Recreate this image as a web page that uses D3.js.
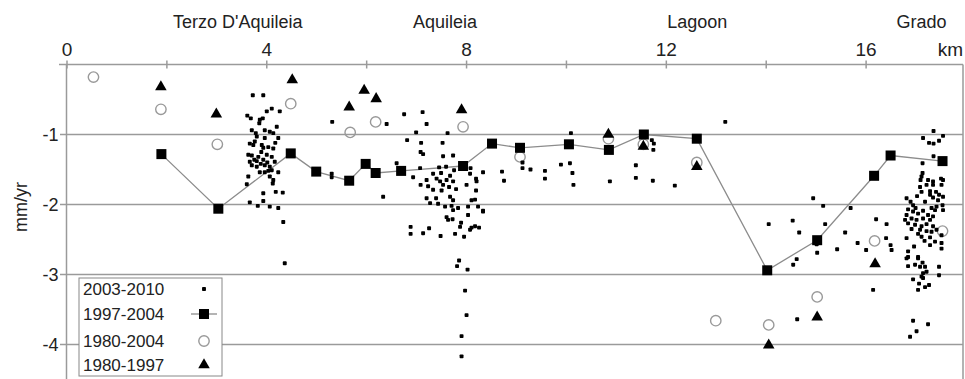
<!DOCTYPE html>
<html>
<head>
<meta charset="utf-8">
<script src="https://cdn.jsdelivr.net/npm/d3@7"></script>
<style>
  body { margin: 0; background: #fff; }
  svg { display: block; font-family: "Liberation Sans", Arial, sans-serif; }
</style>
</head>
<body>
<div id="chart"></div>
<script>
// km along the profile, vertical velocity in mm/yr
const places = [["Terzo D'Aquileia", 3.43], ["Aquileia", 7.58], ["Lagoon", 12.63], ["Grado", 17.12]]
const kmTicks = [0, 2, 4, 6, 8, 10, 12, 14, 16]
const yTicks = [-1, -2, -3, -4]
const legendLabels = ["2003-2010", "1997-2004", "1980-2004", "1980-1997"]

const sq1997_2004 = [[1.90,-1.28],[3.04,-2.06],[4.49,-1.27],[5.00,-1.53],[5.66,-1.66],[5.99,-1.42],[6.19,-1.55],
  [6.70,-1.52],[7.94,-1.45],[8.52,-1.13],[9.08,-1.19],[10.06,-1.14],[10.86,-1.22],[11.56,-1.00],[12.62,-1.06],
  [14.03,-2.94],[15.03,-2.51],[16.17,-1.59],[16.50,-1.30],[17.54,-1.38]]

const circ1980_2004 = [[0.54,-0.18],[1.89,-0.64],[3.02,-1.14],[4.49,-0.56],[5.68,-0.97],[6.19,-0.82],[7.94,-0.89],
  [9.08,-1.32],[10.85,-1.06],[11.55,-1.14],[12.62,-1.40],[13.00,-3.66],[14.06,-3.72],[15.03,-3.32],[16.18,-2.52],[17.54,-2.38]]

const tri1980_1997 = [[1.89,-0.32],[3.00,-0.71],[4.52,-0.22],[5.66,-0.61],[5.96,-0.37],[6.20,-0.49],[7.91,-0.65],
  [10.85,-1.00],[11.55,-1.17],[12.62,-1.46],[14.06,-4.01],[15.03,-3.61],[16.19,-2.85]]

const dots2003_2010 = [
  // Terzo d'Aquileia
  [3.73,-0.44],[3.94,-0.44],[4.11,-0.63],[4.27,-0.67],[4.01,-0.67],[3.62,-0.73],[3.69,-0.77],[3.87,-0.79],
  [3.93,-0.77],[3.86,-0.84],[4.21,-0.89],[3.71,-0.94],[3.97,-0.94],[4.07,-0.96],[4.14,-0.98],[3.81,-1.03],
  [3.97,-1.05],[4.24,-1.05],[3.67,-1.13],[3.74,-1.15],[3.91,-1.15],[3.94,-1.19],[4.14,-1.20],[3.64,-1.29],
  [3.71,-1.30],[3.84,-1.32],[4.01,-1.29],[4.11,-1.32],[3.67,-1.39],[3.81,-1.38],[3.94,-1.36],[4.02,-1.40],
  [4.17,-1.39],[3.71,-1.44],[3.81,-1.46],[3.97,-1.44],[4.07,-1.46],[3.87,-1.54],[3.97,-1.54],[4.11,-1.51],
  [4.24,-1.54],[3.64,-1.60],[4.07,-1.60],[4.14,-1.65],[3.61,-1.71],[4.13,-1.70],[3.94,-1.84],[4.19,-1.82],
  [4.33,-1.83],[3.94,-1.95],[3.67,-1.97],[3.83,-2.02],[4.07,-2.03],[4.24,-2.05],[4.34,-2.25],[4.37,-2.84],
  [3.77,-1.10],[3.90,-1.25],[4.04,-1.18],[3.76,-1.36],[3.89,-1.42],[4.04,-1.52],[3.79,-0.98],[4.18,-1.12],
  // between
  [5.32,-0.82],[6.41,-0.85],[6.76,-0.71],[6.82,-1.08],[5.31,-1.56],[5.31,-1.61],[6.61,-1.41],[6.34,-1.89],
  // Aquileia
  [7.13,-0.68],[7.21,-0.85],[7.00,-0.97],[7.63,-0.98],[7.10,-1.12],[7.53,-1.12],[7.09,-1.25],[7.14,-1.28],
  [7.54,-1.31],[7.74,-1.30],[7.08,-1.48],[7.46,-1.47],[7.60,-1.46],[7.76,-1.51],[8.09,-1.48],[6.94,-1.61],
  [7.34,-1.56],[7.50,-1.55],[7.68,-1.59],[8.08,-1.56],[8.34,-1.54],[8.20,-1.63],[7.21,-1.65],[7.41,-1.63],
  [7.48,-1.67],[7.61,-1.65],[7.74,-1.67],[7.09,-1.72],[7.24,-1.74],[7.54,-1.72],[7.66,-1.75],[8.01,-1.72],
  [8.21,-1.67],[7.34,-1.79],[7.51,-1.80],[7.80,-1.78],[8.20,-1.80],[7.21,-1.91],[7.40,-1.91],[7.68,-1.89],
  [7.74,-1.94],[8.11,-1.94],[8.18,-1.93],[7.28,-1.98],[7.44,-1.99],[7.58,-2.03],[7.71,-2.02],[8.04,-2.03],
  [8.24,-2.03],[7.74,-2.08],[7.84,-2.05],[8.34,-2.09],[8.04,-2.15],[7.61,-2.18],[7.73,-2.21],[7.64,-2.22],
  [7.90,-2.26],[6.89,-2.32],[7.26,-2.34],[7.88,-2.32],[8.18,-2.31],[8.26,-2.33],[8.11,-2.33],[6.89,-2.42],
  [7.14,-2.41],[7.49,-2.45],[7.78,-2.42],[7.96,-2.46],[8.08,-2.36],[8.34,-2.10],
  [7.86,-2.80],[7.82,-2.88],[8.03,-2.93],[7.98,-3.23],[8.01,-3.58],[7.91,-3.88],[7.91,-4.17],
  // lagoon
  [8.72,-1.53],[8.76,-1.66],[9.13,-1.40],[9.13,-1.48],[9.29,-1.50],[9.58,-1.52],[9.58,-1.63],[9.90,-1.43],
  [10.08,-1.41],[10.13,-1.55],[10.15,-1.72],[10.10,-0.98],[10.88,-1.67],[11.40,-1.44],[11.40,-1.62],
  [11.74,-1.66],[12.18,-1.73],[11.72,-1.08],[11.76,-1.13],[11.75,-1.22],[13.19,-0.82],
  [14.95,-1.91],[15.15,-2.02],[15.70,-2.05],[16.21,-2.21],[14.06,-2.28],[14.54,-2.23],[14.67,-2.40],
  [15.19,-2.28],[15.59,-2.40],[15.84,-2.55],[16.01,-2.65],[15.43,-2.64],[15.03,-2.69],[15.02,-2.57],
  [14.62,-2.78],[14.55,-2.86],[16.15,-3.22],[14.63,-3.64],
  // Grado
  [16.42,-2.28],[16.41,-2.48],[16.50,-2.58],[16.52,-2.65],
  [17.36,-0.95],[17.55,-1.02],[17.15,-1.05],[17.27,-1.12],[17.36,-1.13],[17.47,-1.09],[17.36,-1.31],
  [17.14,-1.41],[17.14,-1.55],[17.12,-1.60],[17.10,-1.65],[17.25,-1.65],[17.35,-1.67],[17.51,-1.63],
  [17.55,-1.65],[17.22,-1.72],[17.35,-1.72],[17.52,-1.72],[17.09,-1.75],[17.12,-1.82],[17.29,-1.81],
  [17.41,-1.82],[17.47,-1.86],[17.55,-1.89],[17.29,-1.86],[17.35,-1.90],[17.45,-1.94],[17.03,-1.88],
  [16.82,-1.91],[16.90,-1.96],[16.95,-2.01],[17.54,-2.01],[17.42,-2.03],[17.39,-2.08],[17.55,-2.08],
  [16.85,-2.07],[16.95,-2.10],[17.05,-2.13],[17.15,-2.09],[17.25,-2.15],[17.35,-2.17],[16.82,-2.15],
  [16.79,-2.22],[16.92,-2.20],[17.02,-2.22],[17.15,-2.20],[17.29,-2.22],[16.85,-2.27],[16.99,-2.29],
  [17.12,-2.31],[17.22,-2.28],[17.35,-2.31],[17.09,-2.36],[17.22,-2.38],[17.32,-2.39],[17.42,-2.36],
  [17.52,-2.44],[16.82,-2.48],[17.12,-2.46],[17.29,-2.47],[17.39,-2.53],[17.52,-2.55],[17.29,-2.58],
  [17.52,-2.63],[16.85,-2.75],[17.05,-2.75],[16.85,-2.67],[16.82,-2.77],[17.05,-2.77],[17.14,-2.83],
  [16.85,-2.88],[16.99,-2.86],[17.09,-2.89],[17.19,-2.89],[17.22,-2.96],[17.15,-2.98],[17.12,-3.03],
  [17.15,-3.05],[16.95,-3.07],[17.07,-3.13],[17.27,-3.15],[17.19,-3.18],[17.05,-3.22],[17.47,-2.89],
  [17.47,-3.01],[16.95,-3.66],[17.25,-3.71],[17.02,-3.81],[16.89,-3.89],
  [17.00,-2.05],[17.19,-1.96],[17.32,-2.05],[16.92,-2.35],[17.05,-2.42],[17.18,-2.52],[16.97,-2.60]
]

const W = 965, H = 379
const x = d3.scaleLinear().domain([0, 17.95]).range([66.5, 963])
const y = d3.scaleLinear().domain([-4.5, 0]).range([379.5, 64.5])
const grey = "#9a9a9a"

const svg = d3.select("#chart").append("svg").attr("width", W).attr("height", H)

// grid lines
svg.append("g").selectAll("line").data(yTicks).join("line")
  .attr("x1", 60).attr("x2", x.range()[1])
  .attr("y1", d => y(d)).attr("y2", d => y(d))
  .attr("stroke", grey).attr("stroke-width", 1.5)

// y axis
const yAxis = svg.append("g").attr("transform", "translate(" + x(0) + ",0)")
  .call(d3.axisLeft(y).tickValues(yTicks).tickSize(0).tickPadding(8).tickFormat(d => "-" + Math.abs(d)))
yAxis.select(".domain").remove()
yAxis.selectAll("text").attr("font-size", 18).attr("fill", "#222").attr("font-family", null)
svg.append("line").attr("x1", x(0)).attr("x2", x(0)).attr("y1", y(0)).attr("y2", H)
  .attr("stroke", grey).attr("stroke-width", 1.5)
svg.append("line").attr("x1", x.range()[1]).attr("x2", x.range()[1]).attr("y1", y(0)).attr("y2", H)
  .attr("stroke", grey).attr("stroke-width", 1.5)

// top km axis
const xAxis = svg.append("g").attr("transform", "translate(0," + y(0) + ")")
  .call(d3.axisTop(x).tickValues(kmTicks).tickSize(4).tickPadding(5)
    .tickFormat(d => d % 4 === 0 ? d : ""))
xAxis.select(".domain").remove()
xAxis.selectAll("line").attr("y1", 4).attr("stroke", grey).attr("stroke-width", 1.5)
xAxis.selectAll("text").attr("font-size", 19).attr("fill", "#222").attr("font-family", null)
svg.append("line").attr("x1", 59).attr("x2", x.range()[1]).attr("y1", y(0)).attr("y2", y(0))
  .attr("stroke", grey).attr("stroke-width", 1.5)

svg.append("text").attr("x", 963).attr("y", 56).attr("text-anchor", "end")
  .attr("font-size", 19).attr("fill", "#222").text("km")

svg.append("g").selectAll("text").data(places).join("text")
  .attr("x", d => x(d[1])).attr("y", 28).attr("text-anchor", "middle")
  .attr("font-size", 18).attr("fill", "#222").text(d => d[0])

svg.append("text").attr("transform", "translate(27,207) rotate(-90)")
  .attr("text-anchor", "middle").attr("font-size", 18).attr("fill", "#222").text("mm/yr")

// 1997-2004 line
svg.append("path").datum(sq1997_2004)
  .attr("d", d3.line().x(d => x(d[0])).y(d => y(d[1])))
  .attr("fill", "none").attr("stroke", "#8c8c8c").attr("stroke-width", 1.3)

// 1980-2004 circles
svg.append("g").selectAll("circle").data(circ1980_2004).join("circle")
  .attr("cx", d => x(d[0])).attr("cy", d => y(d[1])).attr("r", 5.2)
  .attr("fill", "none").attr("stroke", "#999").attr("stroke-width", 1.4)

// 1980-1997 triangles
const tri = d3.symbol(d3.symbolTriangle, 58)
svg.append("g").selectAll("path").data(tri1980_1997).join("path")
  .attr("d", tri).attr("transform", d => "translate(" + x(d[0]) + "," + y(d[1]) + ")")
  .attr("fill", "#000")

// 1997-2004 squares
svg.append("g").selectAll("rect").data(sq1997_2004).join("rect")
  .attr("x", d => x(d[0]) - 5).attr("y", d => y(d[1]) - 5)
  .attr("width", 10).attr("height", 10).attr("fill", "#000")

// 2003-2010 dots
const ds = 3.9
svg.append("g").selectAll("rect").data(dots2003_2010).join("rect")
  .attr("x", d => x(d[0]) - ds / 2).attr("y", d => y(d[1]) - ds / 2)
  .attr("width", ds).attr("height", ds).attr("rx", 0.8).attr("fill", "#000")

// legend
const lg = svg.append("g").attr("transform", "translate(79,278)")
lg.append("rect").attr("width", 143).attr("height", 98)
  .attr("fill", "#fff").attr("stroke", "#888").attr("stroke-width", 1)
const rowY = [11, 36, 63, 87]
lg.selectAll("text").data(legendLabels).join("text")
  .attr("x", 4).attr("y", (d, i) => rowY[i] + 6)
  .attr("font-size", 17).attr("fill", "#222").text(d => d)
const mx = 125
lg.append("rect").attr("x", mx - ds / 2).attr("y", rowY[0] - ds / 2).attr("width", ds).attr("height", ds).attr("rx", 0.8)
lg.append("line").attr("x1", mx - 13).attr("x2", mx + 13).attr("y1", rowY[1]).attr("y2", rowY[1])
  .attr("stroke", "#8c8c8c").attr("stroke-width", 1.3)
lg.append("rect").attr("x", mx - 5).attr("y", rowY[1] - 5).attr("width", 10).attr("height", 10)
lg.append("circle").attr("cx", mx).attr("cy", rowY[2]).attr("r", 5.2)
  .attr("fill", "none").attr("stroke", "#999").attr("stroke-width", 1.4)
lg.append("path").attr("d", tri).attr("transform", "translate(" + mx + "," + rowY[3] + ")")
</script>
</body>
</html>
